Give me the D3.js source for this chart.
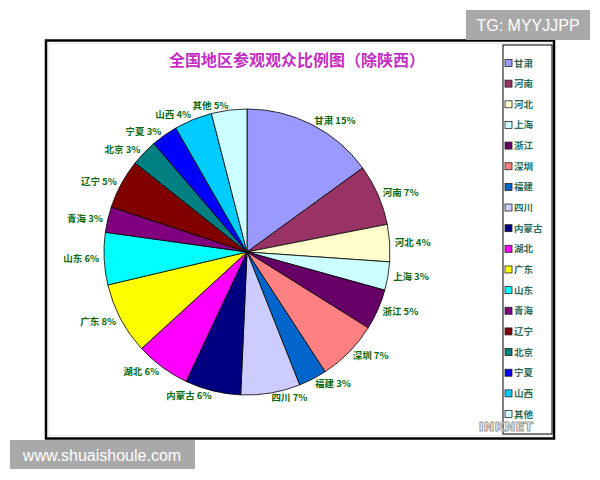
<!DOCTYPE html>
<html><head><meta charset="utf-8">
<script src="https://cdn.jsdelivr.net/npm/d3@7"></script>
<style>body{margin:0;background:#fff;}svg{display:block;}</style>
</head><body>
<script>
const categories = ["甘肃","河南","河北","上海","浙江","深圳","福建","四川","内蒙古","湖北","广东","山东","青海","辽宁","北京","宁夏","山西","其他"];
const values = [15.0,6.9,4.2,3.2,4.6,6.9,3.2,6.7,6.3,6.2,8.1,5.9,2.9,5.6,3.0,3.0,4.3,4.0];
const pctLabels = ["15%","7%","4%","3%","5%","7%","3%","7%","6%","6%","8%","6%","3%","5%","3%","3%","4%","5%"];
const colors = ["#9999FF","#993366","#FFFFCC","#CCFFFF","#660066","#FF8080","#0066CC","#CCCCFF","#000080","#FF00FF","#FFFF00","#00FFFF","#800080","#800000","#008080","#0000FF","#00CCFF","#CCFFFF"];
const title = "全国地区参观观众比例图（除陕西）";

const W=600,H=480;
const svg=d3.select("body").append("svg").attr("width",W).attr("height",H);
svg.append("rect").attr("width",W).attr("height",H).attr("fill","#fff");

// outer frame
svg.append("rect").attr("x",46).attr("y",40.5).attr("width",508).attr("height",398)
  .attr("fill","#fff").attr("stroke","#000").attr("stroke-width",2.5);
svg.append("rect").attr("x",49).attr("y",43.5).attr("width",502).attr("height",392)
  .attr("fill","none").attr("stroke","#e6e6e6").attr("stroke-width",1);

svg.append("text").attr("x",297).attr("y",66).attr("text-anchor","middle")
  .attr("font-family","'Noto Sans CJK SC'").attr("font-weight","bold").attr("font-size",16)
  .attr("fill","#C42EC4").text(title);

const cx=247,cy=252,r=143;
const pie=d3.pie().sort(null).value(d=>d)(values);
const arc=d3.arc().innerRadius(0).outerRadius(r);
const g=svg.append("g").attr("transform",`translate(${cx},${cy})`);
g.selectAll("path").data(pie).join("path").attr("d",arc)
  .attr("fill",(d,i)=>colors[i]).attr("stroke","#000").attr("stroke-width",0.8);

const lr=r+5;
g.selectAll("text.lab").data(pie).join("text").attr("class","lab")
  .each(function(d,i){
    const a=(d.startAngle+d.endAngle)/2;
    const x=lr*Math.sin(a), y=-lr*Math.cos(a);
    d3.select(this).attr("x",x).attr("y",y+3.5)
      .attr("text-anchor", Math.sin(a)>=0?"start":"end")
      .text(categories[i]+" "+pctLabels[i]);
  })
  .attr("font-family","'Noto Sans CJK SC'").attr("font-weight","bold").attr("font-size",9.5)
  .attr("fill","#0b6b12");

// legend
svg.append("rect").attr("x",503).attr("y",45).attr("width",49).attr("height",389)
  .attr("fill","#fff").attr("stroke","#000").attr("stroke-width",1);
const ly=d3.scalePoint().domain(categories).range([63,414]);
const lg=svg.append("g").selectAll("g").data(categories).join("g")
  .attr("transform",d=>`translate(505,${ly(d)})`);
lg.append("rect").attr("x",0).attr("y",-3.5).attr("width",7).attr("height",7)
  .attr("fill",(d,i)=>colors[i]).attr("stroke","#222").attr("stroke-width",0.8);
lg.append("text").attr("x",9).attr("y",3.5).text(d=>d)
  .attr("font-family","'Noto Sans CJK SC'").attr("font-weight","bold").attr("font-size",9.5)
  .attr("fill","#2d6b58");

// watermarks
svg.append("text").attr("x",506).attr("y",431).attr("text-anchor","middle")
  .attr("font-family","'DejaVu Sans'").attr("font-weight","bold").attr("font-size",13)
  .attr("fill","#f4f4f4").attr("stroke","#9a9a9a").attr("stroke-width",1).text("INKNET");
svg.append("rect").attr("x",466).attr("y",10).attr("width",124).attr("height",30).attr("fill","#a9a9a9");
svg.append("text").attr("x",528).attr("y",31).attr("text-anchor","middle")
  .attr("font-family","'Liberation Sans'").attr("font-size",16).attr("fill","#fff").text("TG: MYYJJPP");
svg.append("rect").attr("x",10).attr("y",440).attr("width",185).attr("height",29).attr("fill","#a9a9a9");
svg.append("text").attr("x",102).attr("y",461).attr("text-anchor","middle")
  .attr("font-family","'Liberation Sans'").attr("font-size",16).attr("fill","#fff").text("www.shuaishoule.com");
</script>
</body></html>
